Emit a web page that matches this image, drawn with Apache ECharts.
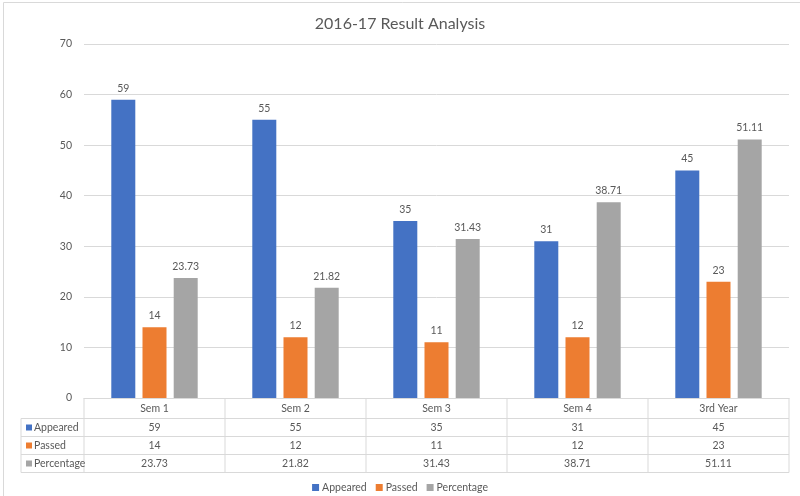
<!DOCTYPE html>
<html>
<head>
<meta charset="utf-8">
<script src="https://cdn.jsdelivr.net/npm/echarts@6/dist/echarts.min.js"></script>
<style>
html,body{margin:0;padding:0;background:#fff;}
#main{width:800px;height:496px;}
</style>
</head>
<body>
<div id="main"></div>
<script>
const categories = ['Sem 1', 'Sem 2', 'Sem 3', 'Sem 4', '3rd Year'];
const appeared = [59, 55, 35, 31, 45];
const passed = [14, 12, 11, 12, 23];
const percentage = [23.73, 21.82, 31.43, 38.71, 51.11];
const seriesNames = ['Appeared', 'Passed', 'Percentage'];
const yTicks = [0, 10, 20, 30, 40, 50, 60, 70];

const colors = ['#4472C4', '#ED7D31', '#A5A5A5'];
const textColor = '#595959';
const lineColor = '#D9D9D9';
const fontFamily = 'Lato, "Open Sans", sans-serif';

const chart = echarts.init(document.getElementById('main'));
const seriesData = [appeared, passed, percentage];

const option = {
  animation: false,
  color: colors,
  textStyle: { fontFamily: fontFamily },
  title: {
    text: '2016-17 Result Analysis',
    left: 'center',
    top: 11,
    textStyle: { fontSize: 16, fontWeight: 'normal', color: textColor, fontFamily: fontFamily }
  },
  legend: {
    data: seriesNames,
    top: 477,
    left: 'center',
    icon: 'rect',
    itemWidth: 7,
    itemHeight: 7,
    itemGap: 9,
    textStyle: { fontSize: 10.5, color: textColor, fontFamily: fontFamily, padding: [0, 0, 0, -2] }
  },
  grid: { left: 84, right: 11, top: 44, bottom: 98, containLabel: false },
  xAxis: {
    type: 'category',
    data: categories,
    axisLine: { show: true, lineStyle: { color: lineColor } },
    axisTick: { show: false },
    axisLabel: { color: textColor, fontSize: 10.5, margin: 5, fontFamily: fontFamily }
  },
  yAxis: {
    type: 'value',
    min: yTicks[0],
    max: yTicks[yTicks.length - 1],
    interval: 10,
    axisLine: { show: false },
    axisTick: { show: false },
    axisLabel: { color: textColor, fontSize: 10.5, margin: 12, fontFamily: fontFamily },
    splitLine: { lineStyle: { color: lineColor } }
  },
  series: seriesNames.map((name, i) => ({
    name: name,
    type: 'bar',
    data: seriesData[i],
    barWidth: 24,
    barGap: '30%',
    label: {
      show: true,
      position: 'top',
      distance: 6,
      color: textColor,
      fontSize: 10.5,
      fontFamily: fontFamily
    }
  }))
};
chart.setOption(option);

// Build the data table under the plot
function buildTable() {
  const c0 = chart.convertToPixel({ xAxisIndex: 0 }, 0);
  const c1 = chart.convertToPixel({ xAxisIndex: 0 }, 1);
  const band = c1 - c0;
  const xLeft = c0 - band / 2;
  const xRight = xLeft + band * categories.length;
  const yTop = chart.convertToPixel({ yAxisIndex: 0 }, 0);
  const headerH = 20.5;
  const rowH = 18;
  const tableLeft = 21;
  const rowTops = [yTop + headerH, yTop + headerH + rowH, yTop + headerH + 2 * rowH];
  const yBottom = yTop + headerH + 3 * rowH;
  const els = [];
  const ls = { stroke: lineColor, lineWidth: 1 };
  for (let r = 0; r < 3; r++) {
    els.push({ type: 'line', shape: { x1: tableLeft, y1: rowTops[r], x2: xRight, y2: rowTops[r] }, style: ls });
  }
  els.push({ type: 'line', shape: { x1: tableLeft, y1: yBottom, x2: xRight, y2: yBottom }, style: ls });
  els.push({ type: 'line', shape: { x1: tableLeft, y1: rowTops[0], x2: tableLeft, y2: yBottom }, style: ls });
  for (let k = 0; k <= categories.length; k++) {
    const x = xLeft + band * k;
    els.push({ type: 'line', shape: { x1: x, y1: yTop, x2: x, y2: yBottom }, style: ls });
  }
  for (let r = 0; r < 3; r++) {
    const cy = rowTops[r] + rowH / 2;
    els.push({ type: 'rect', shape: { x: 26, y: cy - 3, width: 6, height: 6 }, style: { fill: colors[r] } });
    els.push({ type: 'text', x: 34, y: cy, style: { text: seriesNames[r], fill: textColor, fontSize: 10.5, fontFamily: fontFamily, verticalAlign: 'middle', align: 'left' } });
    for (let k = 0; k < categories.length; k++) {
      const cx = chart.convertToPixel({ xAxisIndex: 0 }, k);
      els.push({ type: 'text', x: cx, y: cy, style: { text: String(seriesData[r][k]), fill: textColor, fontSize: 10.5, fontFamily: fontFamily, verticalAlign: 'middle', align: 'center' } });
    }
  }
  els.push({ type: 'rect', shape: { x: 3.5, y: 2.5, width: 800, height: 520 }, style: { fill: 'none', stroke: lineColor, lineWidth: 1 }, z: -1 });
  chart.setOption({ graphic: { elements: els } });
}
buildTable();
</script>
</body>
</html>
